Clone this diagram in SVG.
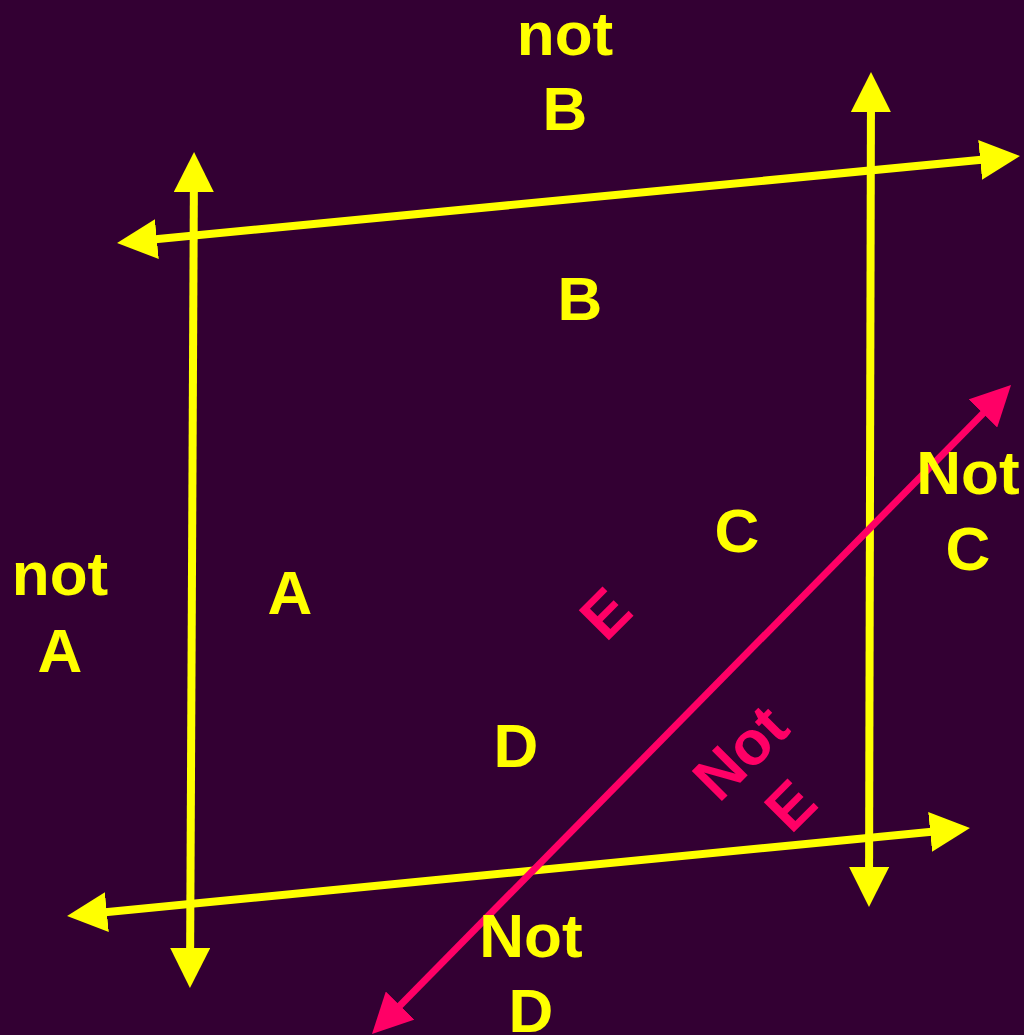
<svg xmlns="http://www.w3.org/2000/svg" width="1024" height="1035" viewBox="0 0 1024 1035">
<defs>
<style>
.y{stroke:#FFFF00;stroke-width:8;fill:none}
.m{stroke:#FF0066;stroke-width:7;fill:none}
text{font-family:"Liberation Sans",Arial,sans-serif;font-weight:bold;font-size:62px;text-anchor:middle}
.ty{fill:#FFFF00}
.tm{fill:#FF0066}
</style>
<marker id="ay" viewBox="0 0 40 40" markerUnits="userSpaceOnUse" markerWidth="40" markerHeight="40" refX="30" refY="20" orient="auto-start-reverse"><path d="M0,0 L40,20 L0,40 z" fill="#FFFF00"/></marker>
<marker id="am" viewBox="0 0 40 40" markerUnits="userSpaceOnUse" markerWidth="40" markerHeight="40" refX="30" refY="20" orient="auto-start-reverse"><path d="M0,0 L40,20 L0,40 z" fill="#FF0066"/></marker>
</defs>
<rect width="1024" height="1035" fill="#330033"/>
<g id="connectors">
<line id="lineA" class="y" x1="194" y1="162" x2="190" y2="978" marker-start="url(#ay)" marker-end="url(#ay)"/>
<line id="lineB" class="y" x1="127" y1="242" x2="1010" y2="157" marker-start="url(#ay)" marker-end="url(#ay)"/>
<line id="lineC" class="y" x1="871" y1="82" x2="869" y2="897" marker-start="url(#ay)" marker-end="url(#ay)"/>
<line id="lineD" class="y" x1="77" y1="915" x2="960" y2="829" marker-start="url(#ay)" marker-end="url(#ay)"/>
<line id="lineE" class="m" x1="379" y1="1026.9" x2="1004" y2="392.1" marker-start="url(#am)" marker-end="url(#am)"/>
</g>
<g id="notB"><text class="ty" x="565" y="55">not</text><text class="ty" x="565" y="130">B</text></g>
<g id="B"><text class="ty" x="580" y="320">B</text></g>
<g id="notA"><text class="ty" x="60" y="595">not</text><text class="ty" x="60" y="672">A</text></g>
<g id="A"><text class="ty" x="290" y="614">A</text></g>
<g id="C"><text class="ty" x="737" y="552">C</text></g>
<g id="notC"><text class="ty" x="968" y="494">Not</text><text class="ty" x="968" y="570">C</text></g>
<g id="D"><text class="ty" x="516" y="767">D</text></g>
<g id="notD"><text class="ty" x="531" y="957">Not</text><text class="ty" x="531" y="1032">D</text></g>
<g id="E"><text class="tm" transform="translate(605,613) rotate(-45)" y="22">E</text></g>
<g id="notE"><text class="tm" transform="translate(740,752) rotate(-45)" y="22">Not</text><text class="tm" transform="translate(790,805) rotate(-45)" y="22">E</text></g>
</svg>
